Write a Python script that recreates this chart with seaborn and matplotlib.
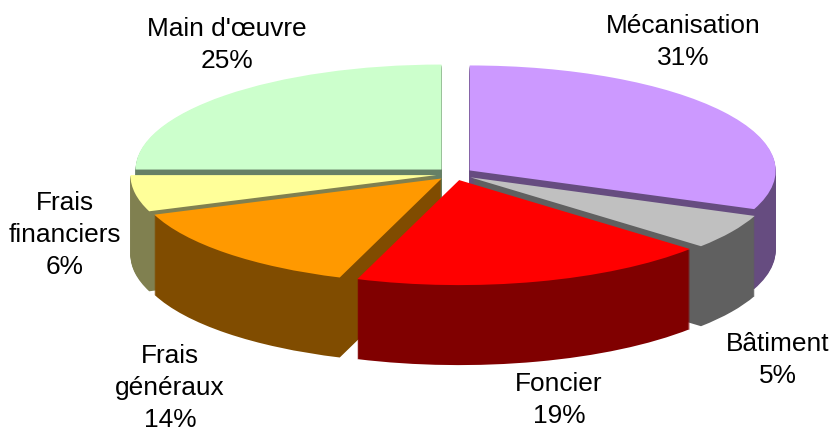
import matplotlib
matplotlib.use("Agg")
import matplotlib.pyplot as plt
import seaborn as sns

sns.set_theme(style="white")
plt.rcParams['font.family'] = ['Liberation Sans', 'DejaVu Sans']

# Parts of the pie, clockwise from the top
categories = ['Mécanisation', 'Bâtiment', 'Foncier', 'Frais\ngénéraux', 'Frais\nfinanciers', "Main d'œuvre"]
shares = [31, 5.4, 19, 14, 5.6, 25]   # unrounded estimates, read from the slice edges
percents = [31, 5, 19, 14, 6, 25]     # as printed on the labels
top_colors = ['#CC99FF', '#C0C0C0', '#FF0000', '#FF9900', '#FFFF99', '#CCFFCC']
side_colors = ['#664C80', '#606060', '#800000', '#804C00', '#808050', '#668066']

W, H = 833, 432
RX, RY = 306, 105      # ellipse half axes in pixels
CX, CY = 454.5, 174    # pie centre in pixels
DEPTH = 80             # wall height in pixels
EXPLODE = 0.06

# back to front painting order
paint_order = [5, 0, 4, 1, 3, 2]

fig = plt.figure(figsize=(W / 100, H / 100), dpi=100, facecolor='white')
ax = fig.add_axes([0, 0, 1, 1])

for z in range(DEPTH, -1, -1):
    colors = top_colors if z == 0 else side_colors
    wedges, _ = ax.pie(shares, colors=sns.color_palette(colors), startangle=90, counterclock=False,
                       explode=[EXPLODE] * len(shares), center=(0, -z / RY), frame=True,
                       wedgeprops={'linewidth': 0, 'antialiased': True})
    for rank, i in enumerate(paint_order):
        wedges[i].set_zorder(rank * 1000 + DEPTH - z + 1)

ax.set_aspect('auto')
ax.set_xlim(-CX / RX, (W - CX) / RX)
ax.set_ylim(-(H - CY) / RY, CY / RY)
ax.axis('off')

# label centres in pixels of the image
label_pos = [(683, 42), (778, 360), (559, 400), (170, 388), (65, 235), (227, 45)]
for name, pct, (px, py) in zip(categories, percents, label_pos):
    ax.text(px / W, 1 - py / H, f"{name}\n{pct}%", transform=ax.transAxes, ha='center', va='center',
            fontsize=18.9, color='black', linespacing=1.43, zorder=10000)

fig.savefig('out.png', dpi=100, facecolor='white')
